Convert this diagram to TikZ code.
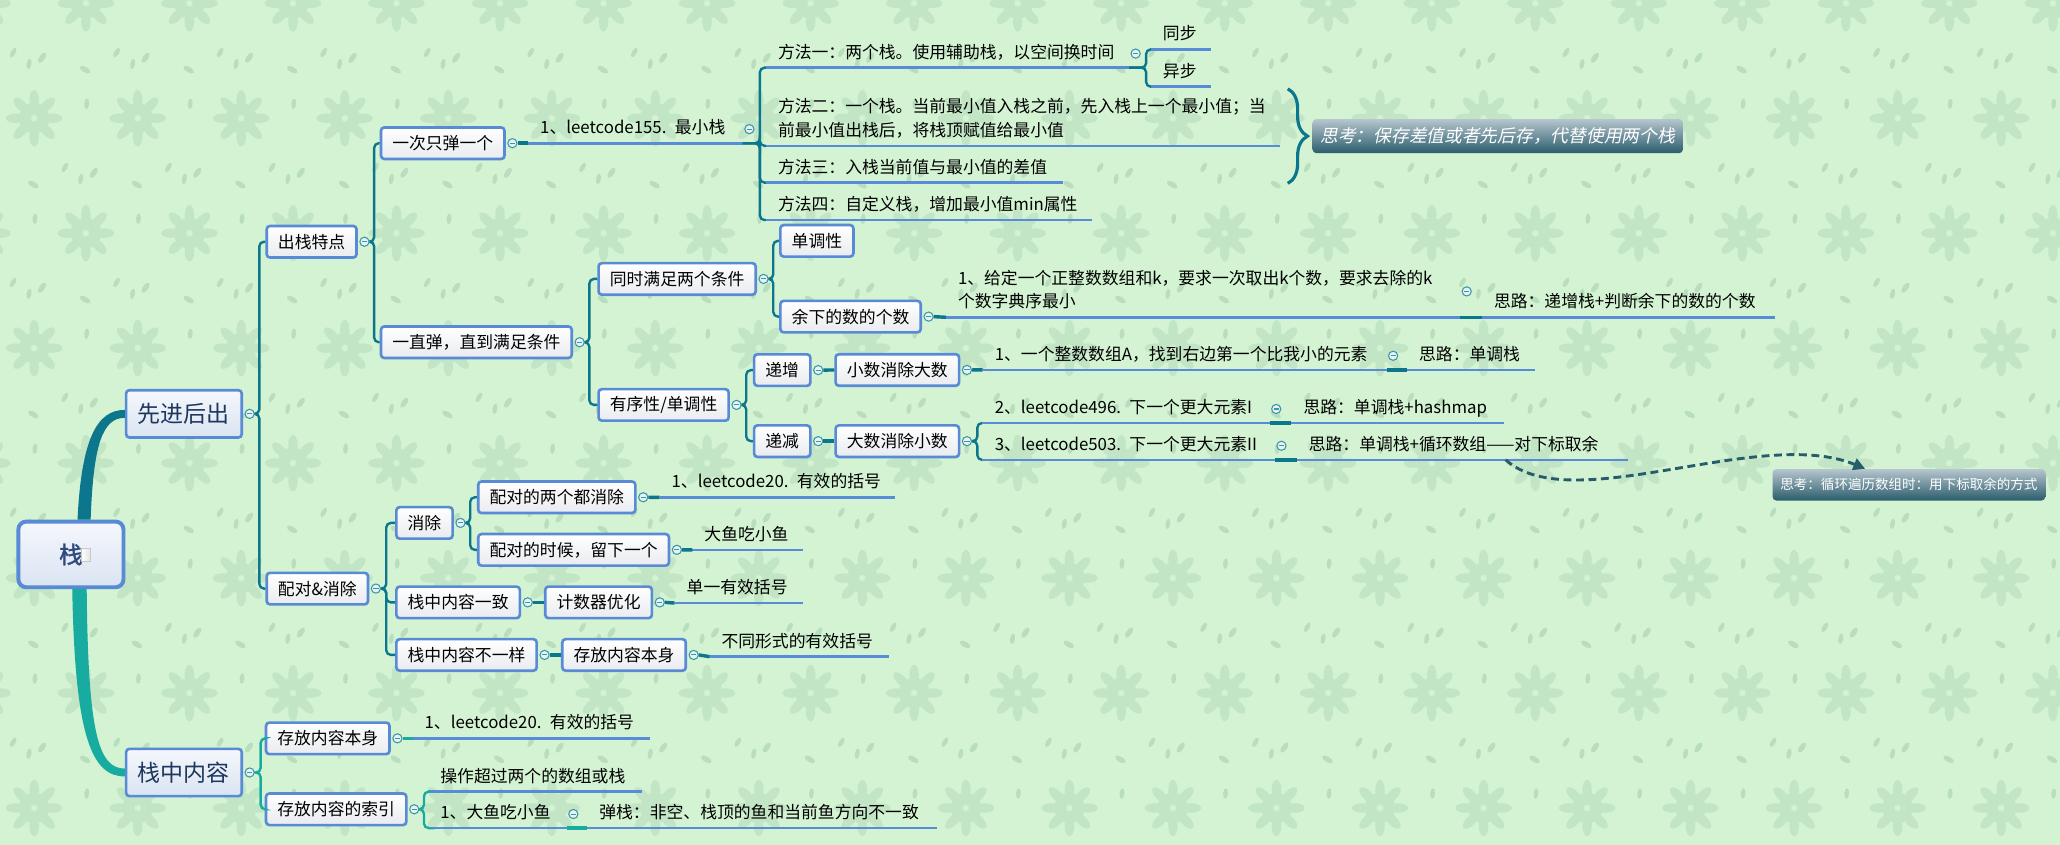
\documentclass[tikz,border=0pt]{standalone}
\usepackage{fontspec}
\setmainfont{Noto Sans CJK SC}
\newfontfamily\cjkit[FakeSlant=0.2]{Noto Sans CJK SC}
\newfontfamily\cjkbf[FakeBold=1.5]{Noto Sans CJK SC}
\usetikzlibrary{calc,arrows.meta,decorations.pathreplacing}

\definecolor{bg}{RGB}{211,243,211}
\definecolor{petalc}{RGB}{194,230,197}
\definecolor{leafc}{RGB}{184,222,189}
\definecolor{boxblue}{RGB}{88,138,214}
\definecolor{boxbot}{RGB}{233,235,239}
\definecolor{majtop}{RGB}{245,247,252}
\definecolor{majbot}{RGB}{218,228,242}
\definecolor{navy}{RGB}{30,55,95}
\definecolor{rootc}{RGB}{45,75,125}
\definecolor{ulblue}{RGB}{88,140,215}
\definecolor{tealA}{RGB}{12,118,140}
\definecolor{tealB}{RGB}{24,172,160}
\definecolor{foldc}{RGB}{60,150,165}
\definecolor{foldfill}{RGB}{229,243,245}
\definecolor{sumtop}{RGB}{182,198,206}
\definecolor{sumbot}{RGB}{42,92,108}
\definecolor{arrowc}{RGB}{38,92,108}

\tikzset{
  topic/.style={draw=boxblue, line width=2pt, rounded corners=2.5pt,
    top color=white, bottom color=boxbot, anchor=west, inner xsep=8.6pt,
    inner ysep=0pt, minimum height=24pt, text=black, font=\fontsize{12.8}{16}\selectfont},
  major/.style={topic, top color=majtop, bottom color=majbot, minimum height=36pt,
    inner xsep=9pt, text=navy, font=\fontsize{17.5}{20}\selectfont},
  rootbox/.style={draw=boxblue, line width=3pt, rounded corners=6pt,
    top color=majtop, bottom color=majbot, minimum width=80pt, minimum height=50pt,
    text=rootc, font=\cjkbf\fontsize{18}{20}\selectfont},
  docicon/.style={minimum width=7pt, minimum height=10pt, inner sep=0pt,
    draw=black!22, line width=0.4pt, left color=white, right color=black!10,
    path picture={\fill[black!18] ([xshift=-2.5pt]path picture bounding box.north east) -- ([yshift=2.5pt]path picture bounding box.north east) -- ([xshift=-2.5pt,yshift=2.5pt]path picture bounding box.north east) -- cycle;}},
  fold/.style={circle, draw=foldc, fill=foldfill, line width=0.8pt, minimum size=7pt,
    inner sep=0pt, path picture={\draw[foldc, line width=0.8pt]
      ([xshift=-2pt]path picture bounding box.center) -- ([xshift=2pt]path picture bounding box.center);}},
  branch/.style={draw=tealA, line width=1.8pt, rounded corners=3.5pt},
  branchB/.style={branch, draw=tealB},
  link/.style={draw=tealA, line width=2.6pt},
  linkB/.style={link, draw=tealB},
  uline/.style={draw=ulblue, line width=2pt},
  leaf/.style={anchor=south west, inner xsep=9pt, inner ysep=4pt, text height=10pt,
    text depth=3pt, align=left, font=\fontsize{12.8}{18}\selectfont,
    append after command={(\tikzlastnode.south west) edge[uline] (\tikzlastnode.south east)}},
  twoline/.style={text depth=21pt},
  summary/.style={rounded corners=3pt, top color=sumtop, bottom color=sumbot,
    text=white, inner xsep=6pt, minimum height=26pt},
  petal/.style={fill=petalc},
  bit/.style={fill=leafc},
  bracebar/.style={draw=tealA, line width=2.4pt, decorate, decoration={brace, amplitude=15pt}},
  dasharrow/.style={draw=arrowc, line width=2.2pt, dash pattern=on 6pt off 3.5pt,
    -{Triangle[length=9pt,width=9pt]}}
}

\begin{document}
\begin{tikzpicture}[x=1pt,y=-1pt]
    \fill[bg](0,0)rectangle(1568,643);
    \useasboundingbox(0,0)rectangle(1568,643);

    % 背景の花
    \foreach \r in {0,...,7}{
      \foreach \c in {-1,...,20}{
        \pgfmathsetmacro\cx{26+78.8*\c+39.4*mod(\r+1,2)}
        \pgfmathsetmacro\cy{2.5+87.5*\r}
        \begin{scope}[shift={(\cx,\cy)}]
          \foreach \a in {0,45,...,315}
            \fill[petal, rotate=\a](14,0)ellipse(7.5 and 3.6);
          \foreach \a in {22.5,67.5,...,337.5}
            \fill[petal, rotate=\a](7,0)ellipse(5 and 2.6);
          \fill[bit, rotate=80](40,-11)ellipse(4 and 1.8);
          \fill[bit, rotate around={60:(-16,-50)}](-16,-50)ellipse(4 and 1.8);
          \fill[bit, rotate around={55:(6,-46)}](6,-46)ellipse(4.5 and 2);
          \fill[bit, rotate around={-30:(-40,-37)}](-40,-37)ellipse(4.5 and 2);
          \fill[bit, rotate around={85:(40,-11)}](40,-11)ellipse(4 and 1.8);
        \end{scope}
      }
    }

    % 根
    \node[rootbox](root)at(54,422){栈\hspace{13pt}};
    \node[docicon](rooticon)at(65,422.5){};

    % 第一层
    \node[major](fifo)at(95,315){先进后出};
    \node[major](content)at(95,588){栈中内容};
    \fill[tealA]($(root.north)+(5,0)$) .. controls +(3,-62) and +(-21,0) .. ($(fifo.west)+(0,-3)$)
      -- ($(fifo.west)+(0,3)$) .. controls +(-17,0) and +(2,-57) .. ($(root.north)+(15,0)$) -- cycle;
    \fill[tealB]($(root.south)+(1,0)$) .. controls +(2,113) and +(-25,0) .. ($(content.west)+(0,3)$)
      -- ($(content.west)+(0,-3)$) .. controls +(-20,0) and +(1,110) .. ($(root.south)+(12,0)$) -- cycle;

    % 出栈特点
    \node[topic](pop)at(202,184){出栈特点};
    \node[topic](once)at(289,109){一次只弹一个};
    \node[topic](until)at(289,260.5){一直弹，直到满足条件};
    \node[topic](both)at(454.6,212.3){同时满足两个条件};
    \node[topic](order)at(454.6,308.2){有序性/单调性};
    \node[topic](mono)at(593,183.3){单调性};
    \node[topic](rest)at(593,241){余下的数的个数};
    \node[topic](inc)at(573,281.7){递增};
    \node[topic](dec)at(573,335.8){递减};
    \node[topic](smalldel)at(635,281.6){小数消除大数};
    \node[topic](bigdel)at(635,335.8){大数消除小数};

    % 配对&消除
    \node[topic](pair)at(202,448){配对\&消除};
    \node[topic](elim)at(300.7,398){消除};
    \node[topic](same)at(300.7,458.5){栈中内容一致};
    \node[topic](diff)at(300.7,498.5){栈中内容不一样};
    \node[topic](pairdel)at(363,378.5){配对的两个都消除};
    \node[topic](pairkeep)at(363,418.5){配对的时候，留下一个};
    \node[topic](counter)at(414,458.5){计数器优化};
    \node[topic](raw)at(427,498.5){存放内容本身};

    % 栈中内容
    \node[topic](store)at(201.5,562){存放内容本身};
    \node[topic](index)at(201.5,616){存放内容的索引};

    % 叶
    \node[leaf, text width=145pt](l155)at(402,109){1、leetcode155. 最小栈};
    \node[leaf, text width=258pt](m1)at(583,51.5){方法一：两个栈。使用辅助栈，以空间换时间};
    \node[leaf, twoline, text width=373pt](m2)at(583,111){方法二：一个栈。当前最小值入栈之前，先入栈上一个最小值；当\\前最小值出栈后，将栈顶赋值给最小值};
    \node[leaf, text width=208pt](m3)at(583,139){方法三：入栈当前值与最小值的差值};
    \node[leaf, text width=230pt](m4)at(583,167.5){方法四：自定义栈，增加最小值min属性};
    \node[leaf, text width=27pt](sync)at(876,37.6){同步};
    \node[leaf, text width=27pt](async)at(876,66){异步};
    \node[leaf, twoline, text width=373pt](k1)at(720,241.5){1、给定一个正整数数组和k，要求一次取出k个数，要求去除的k\\个数字典序最小};
    \node[leaf, text width=205pt](k2)at(1128,241.5){思路：递增栈+判断余下的数的个数};
    \node[leaf, text width=289pt](a1)at(748,281.5){1、一个整数数组A，找到右边第一个比我小的元素};
    \node[leaf, text width=79pt](a2)at(1071,281.5){思路：单调栈};
    \node[leaf, text width=200pt](b1)at(748,322){2、leetcode496. 下一个更大元素I};
    \node[leaf, text width=143pt](b2)at(983,322){思路：单调栈+hashmap};
    \node[leaf, text width=204pt](c1)at(748,350){3、leetcode503. 下一个更大元素II};
    \node[leaf, text width=234pt](c2)at(987,350){思路：单调栈+循环数组——对下标取余};
    \node[leaf, text width=161pt](lc20a)at(502,378.6){1、leetcode20. 有效的括号};
    \node[leaf, text width=66pt](fish)at(527,418.6){大鱼吃小鱼};
    \node[leaf, text width=79pt](single)at(513.5,459){单一有效括号};
    \node[leaf, text width=118pt](forms)at(540,499.8){不同形式的有效括号};
    \node[leaf, text width=162pt](lc20b)at(314,562){1、leetcode20. 有效的括号};
    \node[leaf, text width=144pt](ops)at(326,602.6){操作超过两个的数组或栈};
    \node[leaf, text width=87pt](fish2)at(326,630.3){1、大鱼吃小鱼};
    \node[leaf, text width=248pt](popc)at(447,630.3){弹栈：非空、栈顶的鱼和当前鱼方向不一致};

    % 折り畳みボタン
    \foreach \n in {fifo,content,pop,pair,store,index,once,until,elim,same,diff,both,order,
        pairdel,pairkeep,counter,raw,rest,inc,dec,smalldel,bigdel,l155,m1,k1,a1,b1,c1,fish2}
      \node[fold](\n-f)at($(\n.east)+(5,0)$){};

    % 枝
    \foreach \c in {pop,pair} \draw[branch](fifo-f.east) -- ++(3.5,0) |- (\c.west);
    \foreach \c in {store,index} \draw[branchB](content-f.east) -- ++(4.5,0) |- (\c.west);
    \foreach \c in {once,until} \draw[branch](pop-f.east) -- ++(3.5,0) |- (\c.west);
    \foreach \c in {both,order} \draw[branch](until-f.east) -- ++(3.5,0) |- (\c.west);
    \foreach \c in {mono,rest} \draw[branch](both-f.east) -- ++(3.5,0) |- (\c.west);
    \foreach \c in {inc,dec} \draw[branch](order-f.east) -- ++(3.5,0) |- (\c.west);
    \draw[link](inc-f.east) -- (smalldel.west);
    \draw[link](dec-f.east) -- (bigdel.west);
    \foreach \c in {elim,same,diff} \draw[branch](pair-f.east) -- ++(4,0) |- (\c.west);
    \foreach \c in {pairdel,pairkeep} \draw[branch](elim-f.east) -- ++(3.5,0) |- (\c.west);
    \draw[link](same-f.east) -- (counter.west);
    \draw[link](diff-f.east) -- (raw.west);

    % 叶への線
    \draw[link](once-f.east) -- (l155.south west);
    \foreach \m in {m1,m2,m3,m4} \draw[branch](l155.south east) -- ++(13,0) |- (\m.south west);
    \foreach \s in {sync,async} \draw[branch](m1.south east) -- ++(13,0) |- (\s.south west);
    \draw[link](rest-f.east) -- (k1.south west);
    \draw[link](k1.south east) -- (k2.south west);
    \draw[link](smalldel-f.east) -- (a1.south west);
    \draw[link](a1.south east) -- (a2.south west);
    \foreach \s in {b1,c1} \draw[branch](bigdel-f.east) -- ++(4,0) |- (\s.south west);
    \draw[link](b1.south east) -- (b2.south west);
    \draw[link](c1.south east) -- (c2.south west);
    \draw[link](pairdel-f.east) -- (lc20a.south west);
    \draw[link](pairkeep-f.east) -- (fish.south west);
    \draw[link](counter-f.east) -- (single.south west);
    \draw[link](raw-f.east) -- (forms.south west);
    \draw[linkB](store-f.east) -- (lc20b.south west);
    \foreach \s in {ops,fish2} \draw[branchB](index-f.east) -- ++(3.5,0) |- (\s.south west);
    \draw[linkB](fish2.south east) -- (popc.south west);

    % 思考
    \node[summary, font=\cjkit\fontsize{13.5}{16}\selectfont](sum1)at(1140,103.6){思考：保存差值或者先后存，代替使用两个栈};
    \coordinate(brtop)at($(sum1.west)+(-18.6,-36)$);
    \coordinate(brbot)at($(sum1.west)+(-18.6,36)$);
    \draw[bracebar](brtop) -- (brbot);

    \node[summary, minimum height=24pt, font=\fontsize{10.3}{12}\selectfont](sum2)at(1453,369){思考：循环遍历数组时：用下标取余的方式};
    \draw[dasharrow]($(c2.south west)!0.63!(c2.south east)$) .. controls +(50,45) and +(-80,-33) .. ($(sum2.north west)!0.34!(sum2.north east)$);
\end{tikzpicture}
\end{document}
